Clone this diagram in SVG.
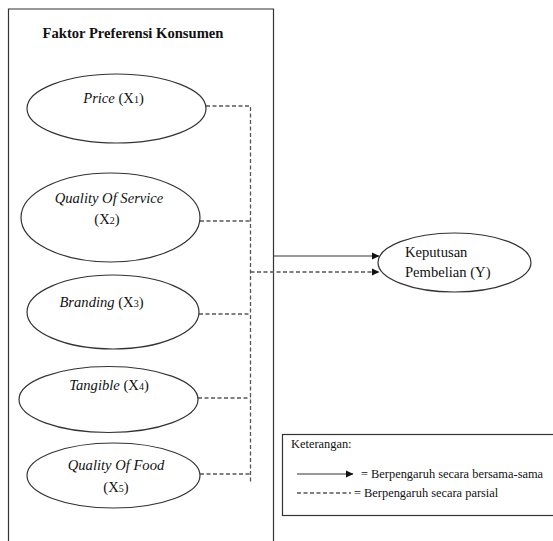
<svg xmlns="http://www.w3.org/2000/svg" width="553" height="541" viewBox="0 0 553 541">
<style>
text{font-family:"Liberation Serif","Times New Roman",serif;fill:#111;}
.n{font-size:14.6px;}
.i{font-style:italic;}
.s{font-size:10px;}
.e{fill:#fff;stroke:#333;stroke-width:1.2;}
.d{fill:none;stroke:#555;stroke-width:1.3;stroke-dasharray:4,2.5;}
.l{fill:none;stroke:#333;stroke-width:1.2;}
.lg{font-size:12.4px;}
</style>
<defs>
<marker id="ah" markerWidth="8" markerHeight="8" refX="7" refY="4" orient="auto" markerUnits="userSpaceOnUse">
<path d="M0,0.5 L7.5,4 L0,7.5 Z" fill="#111"/>
</marker>
</defs>
<rect width="553" height="541" fill="#fff"/>
<g id="frame">
<path class="l" d="M8.5,545 V9 H273.5 V545"/>
<text x="133" y="38" text-anchor="middle" font-size="14.6" font-weight="bold">Faktor Preferensi Konsumen</text>
</g>
<g id="connectors">
<path class="d" d="M206,106 H250.5 V483"/>
<path class="d" d="M200,221 H250.5"/>
<path class="d" d="M199,314 H250.5"/>
<path class="d" d="M198,398 H250.5"/>
<path class="d" d="M200,474 H250.5"/>
<path class="l" d="M273.5,256 H379" marker-end="url(#ah)"/>
<path class="d" d="M250.5,272 H379" marker-end="url(#ah)"/>
</g>
<g id="x1">
<ellipse class="e" cx="116.5" cy="108.5" rx="89.5" ry="34.5"/>
<text class="n" x="113.5" y="103" text-anchor="middle"><tspan class="i">Price</tspan> (X<tspan class="s">1</tspan>)</text>
</g>
<g id="x2">
<ellipse class="e" cx="110.5" cy="217.5" rx="89.5" ry="44.5"/>
<text class="n i" x="109" y="203" text-anchor="middle">Quality Of Service</text>
<text class="n" x="107" y="224" text-anchor="middle">(X<tspan class="s">2</tspan>)</text>
</g>
<g id="x3">
<ellipse class="e" cx="113" cy="312" rx="86" ry="37"/>
<text class="n" x="101.5" y="307" text-anchor="middle"><tspan class="i">Branding</tspan> (X<tspan class="s">3</tspan>)</text>
</g>
<g id="x4">
<ellipse class="e" cx="108.5" cy="399.5" rx="89.5" ry="33"/>
<text class="n" x="109" y="390" text-anchor="middle"><tspan class="i">Tangible</tspan> (X<tspan class="s">4</tspan>)</text>
</g>
<g id="x5">
<ellipse class="e" cx="113.5" cy="475.5" rx="86.5" ry="32.5"/>
<text class="n i" x="116" y="470" text-anchor="middle">Quality Of Food</text>
<text class="n" x="116" y="492" text-anchor="middle">(X<tspan class="s">5</tspan>)</text>
</g>
<g id="y">
<ellipse class="e" cx="454.5" cy="262.5" rx="76.5" ry="29.5"/>
<text class="n" x="405" y="257">Keputusan</text>
<text class="n" x="405" y="277">Pembelian (Y)</text>
</g>
<g id="legend">
<rect x="282.5" y="434.5" width="280" height="81" fill="#fff" stroke="#333" stroke-width="1.2"/>
<text class="lg" x="291" y="448">Keterangan:</text>
<path class="l" d="M297,474 H353" marker-end="url(#ah)"/>
<text class="lg" x="361" y="478">= Berpengaruh secara bersama-sama</text>
<path class="d" d="M297,493 H351" stroke-width="1"/>
<text class="lg" x="354" y="497">= Berpengaruh secara parsial</text>
</g>
</svg>
